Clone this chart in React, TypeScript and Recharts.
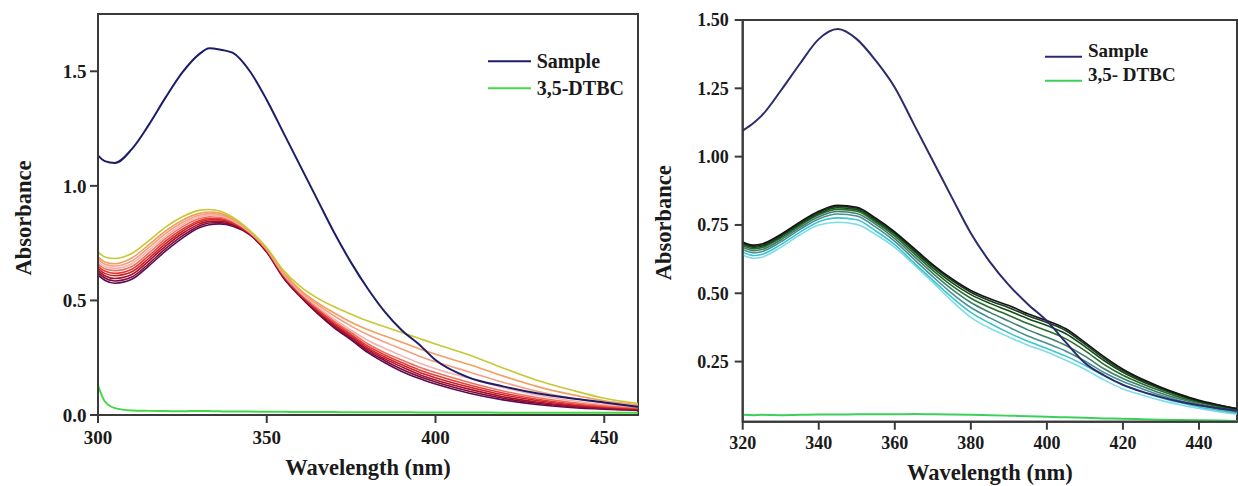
import { LineChart, Line, XAxis, YAxis, Legend, ReferenceArea } from "recharts";

// ---- left panel: Sample, 3,5-DTBC and the time scans (yellow -> purple)
const leftWl = [300, 302, 305, 310, 315, 320, 325, 330, 333, 336, 340, 345, 350, 355, 360, 365, 370, 375, 380, 385, 390, 395, 400, 410, 420, 430, 440, 450, 460];
const leftSample = [1.133, 1.108, 1.1, 1.16, 1.265, 1.385, 1.495, 1.575, 1.6, 1.595, 1.58, 1.5, 1.375, 1.23, 1.085, 0.94, 0.795, 0.665, 0.55, 0.45, 0.37, 0.31, 0.24, 0.163, 0.125, 0.095, 0.073, 0.055, 0.036];
const leftDtbc = [0.13, 0.06, 0.03, 0.02, 0.018, 0.017, 0.016, 0.018, 0.017, 0.016, 0.015, 0.015, 0.014, 0.014, 0.013, 0.013, 0.013, 0.012, 0.012, 0.012, 0.012, 0.011, 0.011, 0.011, 0.01, 0.01, 0.01, 0.01, 0.01];
const leftScans = [
  [0.712, 0.69, 0.683, 0.705, 0.76, 0.82, 0.865, 0.893, 0.897, 0.89, 0.862, 0.805, 0.73, 0.63, 0.56, 0.51, 0.472, 0.44, 0.41, 0.385, 0.36, 0.335, 0.31, 0.262, 0.205, 0.152, 0.11, 0.073, 0.05],
  [0.69, 0.668, 0.66, 0.685, 0.742, 0.803, 0.85, 0.88, 0.886, 0.881, 0.856, 0.802, 0.727, 0.622, 0.545, 0.49, 0.445, 0.405, 0.372, 0.345, 0.318, 0.29, 0.265, 0.22, 0.17, 0.125, 0.09, 0.062, 0.045],
  [0.68, 0.658, 0.65, 0.672, 0.73, 0.792, 0.84, 0.872, 0.879, 0.875, 0.852, 0.8, 0.725, 0.618, 0.54, 0.482, 0.432, 0.388, 0.35, 0.318, 0.288, 0.258, 0.232, 0.188, 0.143, 0.104, 0.075, 0.053, 0.04],
  [0.67, 0.648, 0.64, 0.66, 0.718, 0.78, 0.83, 0.864, 0.872, 0.869, 0.848, 0.798, 0.723, 0.614, 0.535, 0.473, 0.418, 0.37, 0.325, 0.29, 0.258, 0.228, 0.202, 0.16, 0.12, 0.087, 0.063, 0.046, 0.036],
  [0.66, 0.638, 0.63, 0.648, 0.706, 0.77, 0.821, 0.856, 0.865, 0.863, 0.844, 0.796, 0.721, 0.611, 0.531, 0.467, 0.41, 0.36, 0.31, 0.272, 0.24, 0.21, 0.185, 0.142, 0.105, 0.076, 0.055, 0.041, 0.032],
  [0.65, 0.628, 0.618, 0.636, 0.694, 0.759, 0.811, 0.848, 0.858, 0.857, 0.84, 0.794, 0.719, 0.608, 0.527, 0.461, 0.403, 0.352, 0.3, 0.262, 0.229, 0.198, 0.173, 0.131, 0.096, 0.069, 0.05, 0.037, 0.03],
  [0.64, 0.618, 0.608, 0.625, 0.683, 0.748, 0.802, 0.841, 0.852, 0.852, 0.836, 0.792, 0.717, 0.605, 0.524, 0.456, 0.397, 0.346, 0.292, 0.253, 0.219, 0.188, 0.163, 0.122, 0.088, 0.063, 0.045, 0.034, 0.027],
  [0.63, 0.608, 0.596, 0.613, 0.672, 0.737, 0.792, 0.833, 0.845, 0.846, 0.832, 0.79, 0.715, 0.602, 0.521, 0.451, 0.391, 0.34, 0.285, 0.245, 0.21, 0.178, 0.153, 0.113, 0.08, 0.057, 0.041, 0.031, 0.025],
  [0.62, 0.598, 0.585, 0.602, 0.66, 0.726, 0.782, 0.825, 0.838, 0.84, 0.828, 0.788, 0.713, 0.6, 0.518, 0.447, 0.385, 0.334, 0.278, 0.237, 0.2, 0.169, 0.144, 0.104, 0.073, 0.051, 0.037, 0.028, 0.022],
  [0.61, 0.588, 0.575, 0.592, 0.65, 0.715, 0.772, 0.817, 0.83, 0.834, 0.824, 0.786, 0.71, 0.597, 0.515, 0.443, 0.38, 0.328, 0.272, 0.228, 0.19, 0.16, 0.135, 0.095, 0.066, 0.046, 0.033, 0.025, 0.02],
];
const leftScanColors = ["#c8c832", "#f0a060", "#f4a080", "#f2b4ae", "#ef7060", "#e23a35", "#cc1f2a", "#a8102a", "#7d0c38", "#5c0a55"];
const leftXTicks = [300, 350, 400, 450];
const leftYTicks = [0, 0.5, 1.0, 1.5];

// ---- right panel
const rightWl = [320, 323, 325, 330, 335, 340, 345, 350, 355, 360, 365, 370, 375, 380, 385, 390, 395, 400, 405, 410, 415, 420, 425, 430, 435, 440, 445, 450];
const rightSample = [1.095, 1.125, 1.15, 1.241, 1.339, 1.43, 1.467, 1.43, 1.351, 1.253, 1.119, 0.985, 0.851, 0.72, 0.615, 0.53, 0.46, 0.399, 0.32, 0.245, 0.2, 0.165, 0.14, 0.12, 0.103, 0.09, 0.079, 0.07];
const rightDtbc = [0.055, 0.054, 0.055, 0.054, 0.055, 0.056, 0.056, 0.057, 0.057, 0.057, 0.058, 0.057, 0.056, 0.055, 0.054, 0.052, 0.05, 0.048, 0.046, 0.044, 0.042, 0.041, 0.039, 0.037, 0.036, 0.035, 0.034, 0.033];
const rightScans = [
  [0.688, 0.676, 0.68, 0.715, 0.76, 0.8, 0.822, 0.815, 0.775, 0.725, 0.665, 0.605, 0.553, 0.51, 0.48, 0.455, 0.425, 0.4, 0.37, 0.32, 0.268, 0.222, 0.186, 0.156, 0.13, 0.108, 0.092, 0.078],
  [0.684, 0.672, 0.676, 0.711, 0.756, 0.796, 0.818, 0.811, 0.771, 0.721, 0.66, 0.6, 0.547, 0.504, 0.473, 0.447, 0.418, 0.393, 0.363, 0.314, 0.262, 0.217, 0.182, 0.153, 0.128, 0.106, 0.091, 0.077],
  [0.68, 0.668, 0.672, 0.707, 0.752, 0.792, 0.813, 0.806, 0.766, 0.716, 0.654, 0.593, 0.539, 0.495, 0.463, 0.436, 0.407, 0.382, 0.352, 0.305, 0.254, 0.211, 0.177, 0.149, 0.125, 0.104, 0.089, 0.076],
  [0.675, 0.663, 0.667, 0.702, 0.747, 0.787, 0.807, 0.8, 0.76, 0.709, 0.646, 0.584, 0.528, 0.482, 0.448, 0.419, 0.389, 0.363, 0.333, 0.29, 0.24, 0.2, 0.169, 0.142, 0.119, 0.1, 0.086, 0.073],
  [0.668, 0.656, 0.66, 0.695, 0.74, 0.78, 0.799, 0.792, 0.752, 0.7, 0.636, 0.573, 0.515, 0.466, 0.43, 0.398, 0.366, 0.339, 0.309, 0.27, 0.224, 0.188, 0.16, 0.134, 0.113, 0.095, 0.082, 0.07],
  [0.66, 0.648, 0.652, 0.688, 0.733, 0.772, 0.79, 0.783, 0.742, 0.69, 0.625, 0.561, 0.5, 0.448, 0.41, 0.376, 0.344, 0.317, 0.288, 0.252, 0.21, 0.177, 0.151, 0.127, 0.107, 0.09, 0.077, 0.066],
  [0.65, 0.638, 0.642, 0.678, 0.723, 0.762, 0.776, 0.769, 0.728, 0.678, 0.612, 0.548, 0.485, 0.43, 0.39, 0.355, 0.324, 0.298, 0.27, 0.236, 0.198, 0.165, 0.14, 0.118, 0.1, 0.084, 0.072, 0.062],
  [0.64, 0.628, 0.632, 0.668, 0.713, 0.75, 0.76, 0.752, 0.715, 0.668, 0.605, 0.54, 0.472, 0.412, 0.372, 0.34, 0.31, 0.285, 0.255, 0.222, 0.183, 0.15, 0.128, 0.108, 0.092, 0.078, 0.067, 0.058],
];
const rightScanColors = ["#141414", "#1f3a22", "#0f4f16", "#2a6e2a", "#3f7f6f", "#4a8f94", "#3cc4cf", "#7fdde6"];
const rightXTicks = [320, 340, 360, 380, 400, 420, 440];
const rightYTicks = [0.25, 0.5, 0.75, 1.0, 1.25, 1.5];

const SERIF = '"Liberation Serif", "Times New Roman", serif';
const AXIS = "#3a3a3a";

function buildRows(wl: number[], sample: number[], dtbc: number[], scans: number[][]) {
  return wl.map((w, i) => {
    const row: any = { w, sample: sample[i], dtbc: dtbc[i] };
    scans.forEach((s, k) => (row["s" + k] = s[i]));
    return row;
  });
}

function LegendBox({ items, lineW, rowH, lineDy, fontSize }: any) {
  return (
    <div style={{ fontFamily: SERIF, fontWeight: 700, fontSize, color: "#1a1a1a" }}>
      {items.map((it: any) => (
        <div key={it.name} style={{ display: "flex", alignItems: "center", height: rowH, whiteSpace: "nowrap" }}>
          <svg width={lineW} height={rowH} style={{ marginRight: 6 }}>
            <line x1={0} x2={lineW} y1={rowH / 2 + lineDy} y2={rowH / 2 + lineDy} stroke={it.color} strokeWidth={2} />
          </svg>
          <span>{it.name}</span>
        </div>
      ))}
    </div>
  );
}

const xTitle = (dy: number, size: number) => (props: any) => {
  const vb = props.viewBox || {};
  return (
    <text x={vb.x + vb.width / 2} y={vb.y + dy} textAnchor="middle" dominantBaseline="central"
      style={{ fontFamily: SERIF, fontWeight: 700, fontSize: size, fill: "#1a1a1a" }}>
      Wavelength (nm)
    </text>
  );
};

const yTitle = (dx: number, dy: number, size: number) => (props: any) => {
  const vb = props.viewBox || {};
  const cx = vb.x + dx;
  const cy = vb.y + vb.height / 2 + dy;
  return (
    <text x={cx} y={cy} transform={`rotate(-90 ${cx} ${cy})`} textAnchor="middle" dominantBaseline="central"
      style={{ fontFamily: SERIF, fontWeight: 700, fontSize: size, fill: "#1a1a1a" }}>
      Absorbance
    </text>
  );
};

function Panel({ rows, scanColors, domainX, domainY, xTicks, yTicks, yFmt, width, height, margin, yAxisW, xAxisH,
  xTickMargin, yTickMargin, tickSizeFont, sampleColor, dtbcColor, legend, xTitleDy, yTitleDx, yTitleDy, titleSize }: any) {
  const order = scanColors.map((_: string, k: number) => k).reverse();
  const tickStyle = { fill: "#1a1a1a", fontSize: tickSizeFont, fontFamily: SERIF, fontWeight: 700 };
  return (
    <LineChart width={width} height={height} data={rows} margin={margin}>
      <XAxis xAxisId="b" dataKey="w" type="number" domain={domainX} ticks={xTicks} allowDataOverflow
        height={xAxisH} tick={tickStyle} tickSize={8} tickMargin={xTickMargin}
        axisLine={{ stroke: AXIS, strokeWidth: 2 }} tickLine={{ stroke: AXIS, strokeWidth: 2 }}
        label={{ content: xTitle(xTitleDy, titleSize) }} />
      <YAxis yAxisId="l" type="number" domain={domainY} ticks={yTicks} allowDataOverflow width={yAxisW}
        tick={tickStyle} tickSize={8} tickMargin={yTickMargin} tickFormatter={yFmt}
        axisLine={{ stroke: AXIS, strokeWidth: 2 }} tickLine={{ stroke: AXIS, strokeWidth: 2 }}
        label={{ content: yTitle(yTitleDx, yTitleDy, titleSize) }} />
      <ReferenceArea xAxisId="b" yAxisId="l" x1={domainX[0]} x2={domainX[1]} y1={domainY[0]} y2={domainY[1]}
        fill="none" fillOpacity={0} stroke={AXIS} strokeWidth={2} ifOverflow="visible" />
      {order.map((k: number) => (
        <Line key={k} xAxisId="b" yAxisId="l" type="monotone" dataKey={"s" + k} stroke={scanColors[k]}
          strokeWidth={1.6} dot={false} isAnimationActive={false} />
      ))}
      <Line xAxisId="b" yAxisId="l" type="monotone" dataKey="sample" name="Sample" stroke={sampleColor}
        strokeWidth={2} dot={false} isAnimationActive={false} />
      <Line xAxisId="b" yAxisId="l" type="monotone" dataKey="dtbc" name="3,5-DTBC" stroke={dtbcColor}
        strokeWidth={2} dot={false} isAnimationActive={false} />
      <Legend layout="vertical" align="center" verticalAlign="middle" content={() => <LegendBox {...legend} />}
        wrapperStyle={{ position: "absolute", left: legend.left, top: legend.top, width: "auto", height: "auto" }} />
    </LineChart>
  );
}

export default function App() {
  const leftRows = buildRows(leftWl, leftSample, leftDtbc, leftScans);
  const rightRows = buildRows(rightWl, rightSample, rightDtbc, rightScans);
  return (
    <div style={{ position: "fixed", left: 0, top: 0, width: 1238, height: 486, background: "#fff", overflow: "hidden" }}>
      <div style={{ position: "absolute", left: 0, top: 0 }}>
        <Panel rows={leftRows} scanColors={leftScanColors} domainX={[300, 460]} domainY={[0, 1.75]}
          xTicks={leftXTicks} yTicks={leftYTicks} yFmt={(v: number) => v.toFixed(1)}
          width={640} height={486} margin={{ top: 14, right: 2, bottom: 0, left: 0 }} yAxisW={98} xAxisH={71}
          xTickMargin={8} yTickMargin={3.5} tickSizeFont={19} sampleColor="#1c1c6b" dtbcColor="#45d845"
          xTitleDy={52} yTitleDx={23} yTitleDy={3.5} titleSize={22.5}
          legend={{ left: 487.7, top: 48.4, lineW: 43, rowH: 26.6, lineDy: 0, fontSize: 20,
            items: [{ name: "Sample", color: "#1c1c6b" }, { name: "3,5-DTBC", color: "#45d845" }] }} />
      </div>
      <div style={{ position: "absolute", left: 640, top: 0 }}>
        <Panel rows={rightRows} scanColors={rightScanColors} domainX={[320, 450]} domainY={[0.03, 1.5]}
          xTicks={rightXTicks} yTicks={rightYTicks} yFmt={(v: number) => v.toFixed(2)}
          width={598} height={486} margin={{ top: 20, right: 1, bottom: 0, left: 0 }} yAxisW={102.7} xAxisH={64.3}
          xTickMargin={7} yTickMargin={6} tickSizeFont={18} sampleColor="#2b2b6e" dtbcColor="#3ccf5a"
          xTitleDy={50.5} yTitleDx={24} yTitleDy={2} titleSize={22.5}
          legend={{ left: 405, top: 38.6, lineW: 37, rowH: 24.3, lineDy: 5.5, fontSize: 19,
            items: [{ name: "Sample", color: "#2b2b6e" }, { name: "3,5- DTBC", color: "#3ccf5a" }] }} />
      </div>
    </div>
  );
}
